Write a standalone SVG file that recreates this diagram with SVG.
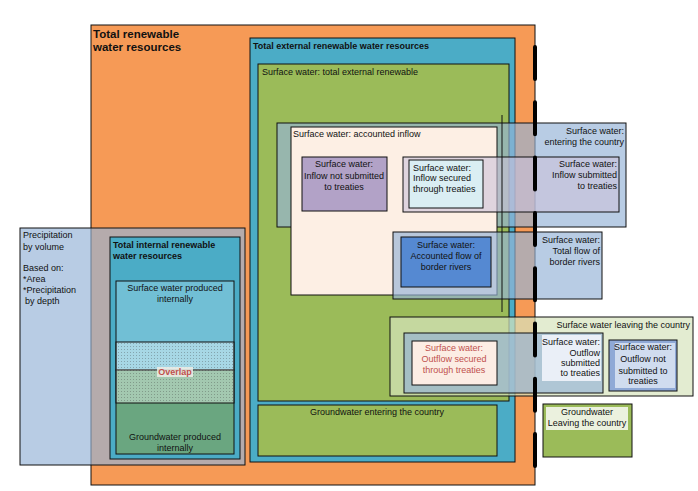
<svg xmlns="http://www.w3.org/2000/svg" width="698" height="491" viewBox="0 0 698 491">
<style>
text{font-family:"Liberation Sans",Arial,sans-serif;font-size:9px;fill:#111;}
.b{font-weight:bold;}
.big{font-size:11.5px;font-weight:bold;}
.m{text-anchor:middle;}
.e{text-anchor:end;}
.red{fill:#C0504D;}
rect{stroke:#111;stroke-width:1;}
.nb{stroke:none;}
.semi{fill:#95B3D7;fill-opacity:0.67;}
.lav{fill:#CCC1DA;fill-opacity:0.6;}
.lg{fill:#D7E4BD;fill-opacity:0.7;}
</style>
<defs>
<pattern id="dots" width="3" height="3" patternUnits="userSpaceOnUse">
<rect class="nb" width="3" height="3" fill="#ffffff" fill-opacity="0.38"/>
<rect class="nb" x="1" y="1" width="1" height="1" fill="#333333" fill-opacity="0.3"/>
</pattern>
</defs>
<rect class="nb" width="698" height="491" fill="#ffffff"/>

<g id="total-renewable">
<rect x="91" y="25" width="444" height="460" fill="#F69A56"/>
<text class="big" x="93" y="38">Total renewable</text>
<text class="big" x="93" y="51">water resources</text>
</g>

<g id="total-external">
<rect x="250" y="38" width="265" height="424" fill="#4BACC6"/>
<text class="b" x="253" y="49">Total external renewable water resources</text>
</g>

<g id="surface-external">
<rect x="258" y="64" width="251" height="337" fill="#9BBB59"/>
<text x="262" y="75">Surface water: total external renewable</text>
</g>

<g id="groundwater-entering">
<rect x="258" y="405" width="239" height="51" fill="#9BBB59"/>
<text class="m" x="377" y="415">Groundwater entering the country</text>
</g>

<g id="precipitation">
<rect x="20" y="228" width="225" height="237" class="semi" stroke="#333"/>
<text x="23" y="238">Precipitation</text>
<text x="23" y="250">by volume</text>
<text x="23" y="271">Based on:</text>
<text x="23" y="282">*Area</text>
<text x="23" y="293">*Precipitation</text>
<text x="25" y="304">by depth</text>
</g>

<g id="total-internal">
<rect x="110" y="237" width="130" height="222" fill="#4BACC6"/>
<text class="b" x="113" y="248">Total internal renewable</text>
<text class="b" x="113" y="259">water resources</text>
</g>

<g id="surface-internal">
<rect x="116" y="281" width="118" height="89" fill="#71BFD5"/>
<text class="m" x="175" y="291">Surface water produced</text>
<text class="m" x="175" y="302">internally</text>
</g>

<g id="groundwater-internal">
<rect x="116" y="370" width="118" height="84" fill="#6AA680"/>
<text class="m" x="175" y="440">Groundwater produced</text>
<text class="m" x="175" y="451">internally</text>
</g>

<g id="overlap">
<rect x="116" y="342" width="118" height="61" fill="url(#dots)"/>
<line x1="116" y1="370" x2="234" y2="370" stroke="#333" stroke-width="0.6"/>
<rect x="157" y="367" width="36" height="10" fill="#EFEDE6" fill-opacity="0.85" class="nb"/>
<text class="b m red" x="175" y="375">Overlap</text>
</g>

<g id="surface-entering">
<rect x="277" y="123" width="349" height="104" class="semi"/>
<text class="e" x="624" y="134">Surface water:</text>
<text class="e" x="624" y="145">entering the country</text>
</g>

<g id="accounted-inflow">
<rect x="291" y="127" width="206" height="168" fill="#FDEFE4"/>
<text x="293" y="137">Surface water: accounted inflow</text>
</g>

<g id="inflow-not-submitted">
<rect x="302" y="157" width="85" height="54" fill="#B2A2C7"/>
<text class="m" x="344" y="167">Surface water:</text>
<text class="m" x="344" y="179">Inflow not submitted</text>
<text class="m" x="344" y="190">to treaties</text>
</g>

<g id="inflow-submitted">
<rect x="403" y="157" width="216" height="55" class="lav"/>
<text class="e" x="617" y="167">Surface water:</text>
<text class="e" x="617" y="178">Inflow submitted</text>
<text class="e" x="617" y="189">to treaties</text>
</g>

<g id="inflow-secured">
<rect x="409" y="160" width="74" height="48" fill="#DAEEF3"/>
<text x="413" y="171">Surface water:</text>
<text x="413" y="181">Inflow secured</text>
<text x="413" y="192">through treaties</text>
</g>

<g id="border-rivers-total">
<rect x="393" y="232" width="209" height="67" class="semi"/>
<text class="e" x="600" y="243">Surface water:</text>
<text class="e" x="600" y="254">Total flow of</text>
<text class="e" x="600" y="265">border rivers</text>
</g>

<g id="border-rivers-accounted">
<rect x="401" y="237" width="90" height="50" fill="#5589D2"/>
<text class="m" x="446" y="248">Surface water:</text>
<text class="m" x="446" y="259">Accounted flow of</text>
<text class="m" x="446" y="270">border rivers</text>
</g>

<g id="surface-leaving">
<rect x="390" y="317" width="303" height="79" class="lg"/>
<text class="e" x="690" y="328">Surface water leaving the country</text>
</g>

<g id="outflow-submitted">
<rect x="404" y="333" width="199" height="60" class="semi"/>
<rect x="542" y="335" width="59" height="46" fill="#EAEFF7" class="nb"/>
<text class="e" x="600" y="345">Surface water:</text>
<text class="e" x="600" y="356">Outflow</text>
<text class="e" x="600" y="366">submitted</text>
<text class="e" x="600" y="376">to treaties</text>
</g>

<g id="outflow-secured">
<rect x="412" y="341" width="85" height="44" fill="#FCEDE4"/>
<text class="m red" x="454" y="351">Surface water:</text>
<text class="m red" x="454" y="362">Outflow secured</text>
<text class="m red" x="454" y="373">through treaties</text>
</g>

<g id="outflow-not-submitted">
<rect x="609" y="340" width="68" height="51" fill="#8FA9D6"/>
<rect x="615" y="343" width="60" height="45" fill="#D0DCEF" class="nb"/>
<text class="m" x="643" y="350">Surface water:</text>
<text class="m" x="643" y="362">Outflow not</text>
<text class="m" x="643" y="374">submitted to</text>
<text class="m" x="643" y="384">treaties</text>
</g>

<g id="groundwater-leaving">
<rect x="543" y="404" width="89" height="53" fill="#9BBB59"/>
<rect x="546" y="407" width="82" height="23" fill="#EBF1DE" class="nb"/>
<text class="m" x="587" y="415">Groundwater</text>
<text class="m" x="587" y="426">Leaving the country</text>
</g>

<g id="connectors">
<line x1="502" y1="115" x2="502" y2="312" stroke="#111" stroke-width="1"/>
<line x1="535" y1="47" x2="535" y2="468" stroke="#000" stroke-width="4" stroke-linecap="round" stroke-dasharray="32 23.3"/>
</g>
</svg>
